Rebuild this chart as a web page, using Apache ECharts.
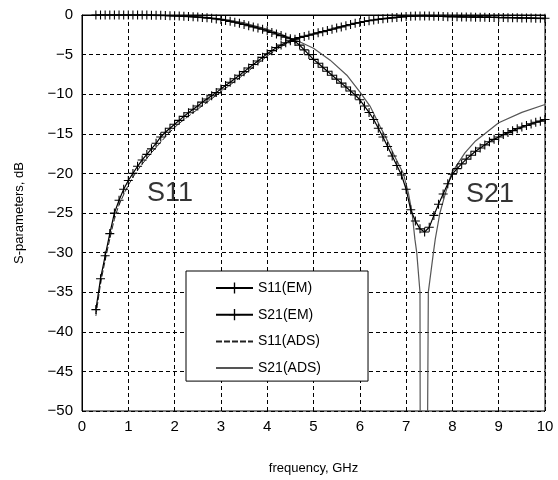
<!DOCTYPE html>
<html>
<head>
<meta charset="utf-8">
<script src="https://cdn.jsdelivr.net/npm/echarts@6/dist/echarts.min.js"></script>
<style>html,body{margin:0;padding:0;background:#fff;}#c{width:558px;height:480px;}</style>
</head>
<body>
<div id="c"></div>
<script>
// ---- data ----
const freqEM = [
  0.3,0.4,0.5,0.6,0.7,0.8,0.9,
  1.0,1.1,1.2,1.3,1.4,1.5,1.6,1.7,1.8,1.9,
  2.0,2.1,2.2,2.3,2.4,2.5,2.6,2.7,2.8,2.9,
  3.0,3.1,3.2,3.3,3.4,3.5,3.6,3.7,3.8,3.9,
  4.0,4.1,4.2,4.3,4.4,4.5,4.6,4.7,4.8,4.9,
  5.0,5.1,5.2,5.3,5.4,5.5,5.6,5.7,5.8,5.9,
  6.0,6.1,6.2,6.3,6.4,6.5,6.6,6.7,6.8,6.9,
  7.0,7.1,7.2,7.3,7.4,7.5,7.6,7.7,7.8,7.9,
  8.0,8.1,8.2,8.3,8.4,8.5,8.6,8.7,8.8,8.9,
  9.0,9.1,9.2,9.3,9.4,9.5,9.6,9.7,9.8,9.9,
  10.0
];
const s11EM = [
  -37.2,-33.3,-30.4,-27.6,-25.0,-23.4,-22.0,
  -20.9,-20.0,-19.1,-18.3,-17.6,-16.9,-16.2,-15.4,-14.8,-14.3,
  -13.8,-13.3,-12.8,-12.35,-11.9,-11.5,-11.0,-10.6,-10.2,-9.8,
  -9.35,-8.9,-8.5,-8.05,-7.6,-7.15,-6.7,-6.25,-5.8,-5.35,
  -4.9,-4.5,-4.1,-3.8,-3.5,-3.25,-3.05,-2.85,-2.7,-2.55,
  -2.4,-2.25,-2.1,-1.95,-1.8,-1.65,-1.5,-1.35,-1.2,-1.05,
  -0.95,-0.82,-0.72,-0.63,-0.55,-0.48,-0.42,-0.36,-0.3,-0.25,
  -0.2,-0.16,-0.13,-0.12,-0.12,-0.13,-0.15,-0.17,-0.19,-0.21,
  -0.22,-0.23,-0.24,-0.25,-0.26,-0.27,-0.28,-0.29,-0.3,-0.31,
  -0.32,-0.33,-0.34,-0.35,-0.36,-0.37,-0.38,-0.39,-0.4,-0.41,
  -0.42
];
const s21EM = [
  0,0,0,0,0,0,0,
  0,0,0,0,0,-0.02,-0.03,-0.04,-0.06,-0.08,
  -0.1,-0.12,-0.15,-0.18,-0.22,-0.26,-0.3,-0.36,-0.42,-0.5,
  -0.58,-0.68,-0.8,-0.92,-1.05,-1.2,-1.35,-1.5,-1.65,-1.8,
  -2.0,-2.2,-2.4,-2.6,-2.8,-3.0,-3.35,-3.8,-4.4,-5.0,
  -5.6,-6.1,-6.6,-7.1,-7.6,-8.1,-8.6,-9.1,-9.6,-10.1,
  -10.7,-11.5,-12.3,-13.2,-14.3,-15.4,-16.6,-17.8,-19.0,-20.2,
  -22.0,-24.6,-26.0,-27.0,-27.4,-26.8,-25.3,-23.9,-22.6,-21.3,
  -20.1,-19.4,-18.8,-18.2,-17.7,-17.2,-16.8,-16.4,-16.0,-15.7,
  -15.4,-15.1,-14.85,-14.6,-14.35,-14.15,-13.95,-13.75,-13.55,-13.4,
  -13.2
];
const freqS11ADS = [0.3,0.4,0.5,0.6,0.7,0.8,1.0,1.2,1.5,2.0,2.5,3.0,3.5,4.0,4.3,4.56,5.0,5.5,6.0,6.5,7.0,7.4,8.0,9.0,10.0];
const s11ADS     = [-38.0,-34.0,-31.0,-28.3,-25.8,-24.0,-21.5,-19.6,-17.4,-14.2,-11.9,-9.7,-7.5,-5.2,-4.0,-3.2,-2.4,-1.6,-0.9,-0.45,-0.15,0,-0.1,-0.25,-0.5];
const freqS21ADS = [0.3,1.0,2.0,3.0,3.5,4.0,4.3,4.56,4.71,5.0,5.36,5.72,6.0,6.22,6.44,6.55,6.75,6.94,7.05,7.13,7.19,7.23,7.30,7.305,7.46,7.48,7.59,7.63,7.73,7.85,7.98,8.27,8.5,8.7,9.0,9.5,10.0];
const s21ADS     = [0,0,-0.1,-0.5,-1.0,-1.8,-2.4,-3.1,-3.4,-4.2,-5.7,-7.6,-9.7,-11.5,-14.1,-15.3,-17.8,-20.0,-22.5,-25.0,-28.3,-30.0,-35.0,-55,-55,-35.0,-30.0,-28.3,-25.0,-22.5,-20.0,-17.4,-15.9,-15.0,-13.6,-12.3,-11.3];
const seriesNames = ['S11(EM)','S21(EM)','S11(ADS)','S21(ADS)'];
const xTicks = [0,1,2,3,4,5,6,7,8,9,10];
const yTicks = [0,-5,-10,-15,-20,-25,-30,-35,-40,-45,-50];

const zip = (xs, ys) => xs.map((x, i) => [x, ys[i]]);
const FONT = "'Liberation Sans', Arial, Helvetica, sans-serif";
const PLUS = 'path://M4.4,0 H5.6 V4.4 H10 V5.6 H5.6 V10 H4.4 V5.6 H0 V4.4 H4.4 Z';

const chart = echarts.init(document.getElementById('c'), null, {renderer: 'canvas'});
chart.setOption({
  animation: false,
  backgroundColor: '#fff',
  grid: {left: 82, right: 13, top: 15, bottom: 68, show: true, borderColor: '#000', borderWidth: 1},
  xAxis: {
    type: 'value', min: xTicks[0], max: xTicks[xTicks.length - 1], interval: 1,
    name: 'frequency, GHz', nameLocation: 'middle', nameGap: 51,
    nameTextStyle: {fontFamily: FONT, fontSize: 13, color: '#000'},
    axisLine: {show: true, lineStyle: {color: '#000', width: 1}},
    axisTick: {show: false},
    axisLabel: {fontFamily: FONT, fontSize: 15, color: '#000', margin: 8},
    splitLine: {show: true, lineStyle: {color: '#000', type: [4, 3], width: 1}}
  },
  yAxis: {
    type: 'value', min: yTicks[yTicks.length - 1], max: yTicks[0], interval: 5,
    name: 'S-parameters, dB', nameLocation: 'middle', nameGap: 56,
    nameTextStyle: {fontFamily: FONT, fontSize: 13, color: '#000'},
    axisLine: {show: true, lineStyle: {color: '#000', width: 1}},
    axisTick: {show: false},
    axisLabel: {fontFamily: FONT, fontSize: 15, color: '#000', margin: 9,
      formatter: v => v < 0 ? '\u2212' + (-v) : String(v)},
    splitLine: {show: true, lineStyle: {color: '#000', type: [4, 3], width: 1}}
  },
  legend: {
    data: [
      {name: seriesNames[0]},
      {name: seriesNames[1]},
      {name: seriesNames[2], itemStyle: {opacity: 0}},
      {name: seriesNames[3], itemStyle: {opacity: 0}}
    ],
    orient: 'vertical', left: 186, top: 271,
    backgroundColor: '#fff', borderColor: '#000', borderWidth: 1,
    padding: [10, 47, 6, 29],
    itemWidth: 37, itemHeight: 14, itemGap: 12.7,
    textStyle: {fontFamily: FONT, fontSize: 14, color: '#000'}
  },
  series: [
    {
      name: seriesNames[2], type: 'line', data: zip(freqS11ADS, s11ADS),
      showSymbol: false, symbol: 'none', smooth: 0.3, z: 2,
      lineStyle: {color: '#222', width: 1, type: [6, 2]}, itemStyle: {color: '#222'}
    },
    {
      name: seriesNames[3], type: 'line', data: zip(freqS21ADS, s21ADS),
      showSymbol: false, symbol: 'none', z: 2,
      lineStyle: {color: '#555', width: 1.2}, itemStyle: {color: '#555'}
    },
    {
      name: seriesNames[0], type: 'line', data: zip(freqEM, s11EM),
      symbol: PLUS, symbolSize: 9, showSymbol: true, z: 3,
      lineStyle: {color: '#000', width: 1.2}, itemStyle: {color: '#000'}
    },
    {
      name: seriesNames[1], type: 'line', data: zip(freqEM, s21EM),
      symbol: PLUS, symbolSize: 9, showSymbol: true, z: 3,
      lineStyle: {color: '#000', width: 1.2}, itemStyle: {color: '#000'}
    },
    {
      name: 'annotations', type: 'scatter', symbolSize: 0, silent: true, z: 5,
      data: [[1.9, -22.5, 'S11'], [8.81, -22.7, 'S21']],
      label: {show: true, position: 'inside', formatter: p => p.value[2],
        fontFamily: FONT, fontSize: 27, color: '#000'}
    }
  ]
});
</script>
</body>
</html>
